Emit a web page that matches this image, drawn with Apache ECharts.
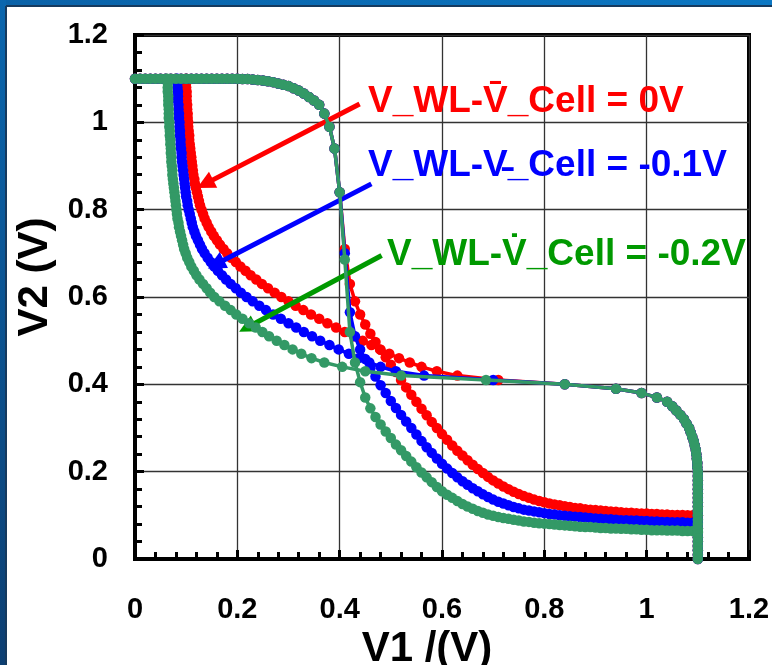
<!DOCTYPE html>
<html>
<head>
<meta charset="utf-8">
<script src="https://cdn.jsdelivr.net/npm/echarts@6/dist/echarts.min.js"></script>
<style>
  html, body { margin: 0; padding: 0; background: #fff; }
  #chart { width: 772px; height: 665px; }
</style>
</head>
<body>
<div id="chart"></div>
<script>
// swept node voltage V1 (step 0.01 V)
const sweep = [
  0.00, 0.01, 0.02, 0.03, 0.04, 0.05, 0.06, 0.07, 0.08, 0.09,
  0.10, 0.11, 0.12, 0.13, 0.14, 0.15, 0.16, 0.17, 0.18, 0.19,
  0.20, 0.21, 0.22, 0.23, 0.24, 0.25, 0.26, 0.27, 0.28, 0.29,
  0.30, 0.31, 0.32, 0.33, 0.34, 0.35, 0.36, 0.37, 0.38, 0.39,
  0.40, 0.41, 0.42, 0.43, 0.44, 0.45, 0.46, 0.47, 0.48, 0.49,
  0.50, 0.51, 0.52, 0.53, 0.54, 0.55, 0.56, 0.57, 0.58, 0.59,
  0.60, 0.61, 0.62, 0.63, 0.64, 0.65, 0.66, 0.67, 0.68, 0.69,
  0.70, 0.71, 0.72, 0.73, 0.74, 0.75, 0.76, 0.77, 0.78, 0.79,
  0.80, 0.81, 0.82, 0.83, 0.84, 0.85, 0.86, 0.87, 0.88, 0.89,
  0.90, 0.91, 0.92, 0.93, 0.94, 0.95, 0.96, 0.97, 0.98, 0.99,
  1.00, 1.01, 1.02, 1.03, 1.04, 1.05, 1.06, 1.07, 1.08, 1.09,
  1.10
];

// V2 read at each sweep point, V_WL - V_Cell = 0V
const v2Red = [
  1.1, 1.1, 1.1, 1.1, 1.1, 1.1, 1.1, 1.1, 1.1, 1.1,
  1.1, 1.1, 1.1, 1.1, 1.1, 1.1, 1.1, 1.1, 1.1, 1.1,
  1.1, 1.099, 1.099, 1.098, 1.097, 1.096, 1.094, 1.092, 1.089, 1.086,
  1.083, 1.078, 1.073, 1.066, 1.058, 1.05, 1.04, 1.02, 0.99, 0.94,
  0.84, 0.71, 0.63, 0.59, 0.56, 0.537, 0.516, 0.497, 0.479, 0.462,
  0.445, 0.428, 0.41, 0.393, 0.376, 0.36, 0.344, 0.329, 0.314, 0.3,
  0.286, 0.273, 0.26, 0.248, 0.237, 0.226, 0.216, 0.206, 0.197, 0.188,
  0.18, 0.173, 0.166, 0.16, 0.154, 0.149, 0.144, 0.14, 0.136, 0.133,
  0.13, 0.127, 0.125, 0.123, 0.121, 0.119, 0.117, 0.116, 0.114, 0.113,
  0.112, 0.111, 0.11, 0.109, 0.108, 0.107, 0.106, 0.106, 0.105, 0.104,
  0.104, 0.103, 0.103, 0.102, 0.102, 0.101, 0.101, 0.101, 0.1, 0.1,
  0.1
];

// V_WL - V_Cell = -0.1V
const v2Blue = [
  1.1, 1.1, 1.1, 1.1, 1.1, 1.1, 1.1, 1.1, 1.1, 1.1,
  1.1, 1.1, 1.1, 1.1, 1.1, 1.1, 1.1, 1.1, 1.1, 1.1,
  1.1, 1.099, 1.099, 1.098, 1.097, 1.096, 1.094, 1.092, 1.089, 1.086,
  1.083, 1.078, 1.073, 1.066, 1.058, 1.05, 1.04, 1.02, 0.99, 0.94,
  0.84, 0.70, 0.565, 0.51, 0.48, 0.458, 0.437, 0.418, 0.398, 0.38,
  0.362, 0.346, 0.33, 0.315, 0.3, 0.285, 0.27, 0.256, 0.243, 0.23,
  0.218, 0.207, 0.197, 0.187, 0.178, 0.17, 0.162, 0.155, 0.148, 0.142,
  0.136, 0.131, 0.127, 0.123, 0.119, 0.116, 0.113, 0.111, 0.109, 0.107,
  0.105, 0.103, 0.102, 0.1, 0.099, 0.098, 0.097, 0.096, 0.095, 0.094,
  0.093, 0.092, 0.091, 0.091, 0.09, 0.089, 0.089, 0.088, 0.088, 0.087,
  0.087, 0.086, 0.086, 0.085, 0.085, 0.084, 0.084, 0.084, 0.083, 0.083,
  0.083
];

// V_WL - V_Cell = -0.2V
const v2Teal = [
  1.1, 1.1, 1.1, 1.1, 1.1, 1.1, 1.1, 1.1, 1.1, 1.1,
  1.1, 1.1, 1.1, 1.1, 1.1, 1.1, 1.1, 1.1, 1.1, 1.1,
  1.1, 1.099, 1.099, 1.098, 1.097, 1.096, 1.094, 1.092, 1.089, 1.086,
  1.083, 1.078, 1.073, 1.066, 1.058, 1.05, 1.04, 1.02, 0.99, 0.94,
  0.84, 0.686, 0.52, 0.45, 0.405, 0.37, 0.345, 0.325, 0.308, 0.292,
  0.277, 0.262, 0.249, 0.236, 0.223, 0.21, 0.198, 0.187, 0.176, 0.165,
  0.155, 0.147, 0.14, 0.133, 0.126, 0.12, 0.115, 0.11, 0.106, 0.102,
  0.099, 0.096, 0.094, 0.092, 0.09, 0.088, 0.086, 0.085, 0.083, 0.082,
  0.081, 0.08, 0.079, 0.078, 0.077, 0.076, 0.075, 0.074, 0.073, 0.073,
  0.072, 0.071, 0.071, 0.07, 0.07, 0.069, 0.069, 0.068, 0.068, 0.067,
  0.067, 0.066, 0.066, 0.066, 0.065, 0.065, 0.065, 0.064, 0.064, 0.064,
  0.063
];

const tickLabels = ['0', '0.2', '0.4', '0.6', '0.8', '1', '1.2'];

const labelRed = 'V_WL-V\u0304_Cell = 0V';
const labelBlue = 'V_WL-V\u0335_Cell = -0.1V';
const labelGreen = 'V_WL-V\u0307_Cell = -0.2V';

// arrows: [from V1, from V2, to V1, to V2]
const arrowRed = [0.439, 1.042, 0.137, 0.859];
const arrowBlue = [0.462, 0.859, 0.158, 0.675];
const arrowGreen = [0.482, 0.695, 0.219, 0.53];

const FONT = '"Liberation Sans", Arial, sans-serif';

// butterfly: transfer curve and its mirror (inputs/outputs swapped)
function curve(ys) { return sweep.map((x, i) => [x, ys[i]]); }
function mirror(ys) { return sweep.map((x, i) => [ys[i], x]); }

function lineSeries(name, data, color, z) {
  return {
    name: name,
    type: 'line',
    data: data,
    z: z,
    symbol: 'circle',
    symbolSize: 10.5,
    showSymbol: true,
    itemStyle: { color: color },
    lineStyle: { color: color, width: 3.5 },
    emphasis: { disabled: true }
  };
}

function arrow(a, color) {
  return [{ coord: [a[0], a[1]], lineStyle: { color: color } }, { coord: [a[2], a[3]] }];
}

var myChart = echarts.init(document.getElementById('chart'), null, { renderer: 'canvas' });

let tealB = lineSeries('tealB', mirror(v2Teal), '#339966', 7);
tealB.markLine = {
  silent: true,
  symbol: ['none', 'triangle'],
  symbolSize: [18, 18],
  label: { show: false },
  lineStyle: { width: 5, type: 'solid' },
  data: [arrow(arrowRed, '#ff0000'), arrow(arrowBlue, '#0000ff'), arrow(arrowGreen, '#009900')]
};

let option = {
  animation: false,
  backgroundColor: '#ffffff',
  grid: {
    left: 135, right: 23, top: 35, bottom: 106,
    outerBoundsMode: 'none', containLabel: false,
    show: true, borderColor: '#000', borderWidth: 4
  },
  xAxis: {
    type: 'value', min: 0, max: 1.2, interval: 0.2,
    axisLine: { show: true, onZero: false, lineStyle: { color: '#000', width: 4 } },
    axisTick: { show: true, inside: true, length: 9, lineStyle: { color: '#000', width: 3 } },
    minorTick: { show: true, splitNumber: 5, length: 7, lineStyle: { color: '#000', width: 3 } },
    splitLine: { show: true, lineStyle: { color: '#333', width: 1.3 } },
    axisLabel: {
      fontSize: 29, fontWeight: 'bold', color: '#000', fontFamily: FONT, margin: 36,
      formatter: v => tickLabels[Math.round(v / 0.2)]
    },
    name: 'V1 /(V)', nameLocation: 'middle', nameGap: 50,
    nameTextStyle: { fontSize: 42, fontWeight: 'bold', color: '#000', fontFamily: FONT, padding: [0, 30, 0, 0] }
  },
  yAxis: {
    type: 'value', min: 0, max: 1.2, interval: 0.2,
    axisLine: { show: true, onZero: false, lineStyle: { color: '#000', width: 4 } },
    axisTick: { show: true, inside: true, length: 9, lineStyle: { color: '#000', width: 3 } },
    minorTick: { show: true, splitNumber: 5, length: 7, lineStyle: { color: '#000', width: 3 } },
    splitLine: { show: true, lineStyle: { color: '#333', width: 1.3 } },
    axisLabel: {
      fontSize: 29, fontWeight: 'bold', color: '#000', fontFamily: FONT, margin: 27,
      formatter: v => tickLabels[Math.round(v / 0.2)]
    },
    name: 'V2 (V)', nameLocation: 'middle', nameGap: 64,
    nameTextStyle: { fontSize: 42, fontWeight: 'bold', color: '#000', fontFamily: FONT, padding: [0, 0, 0, 40] }
  },
  series: [
    lineSeries('redA', curve(v2Red), '#ff0000', 2),
    lineSeries('redB', mirror(v2Red), '#ff0000', 2),
    lineSeries('blueA', curve(v2Blue), '#0000ff', 4),
    lineSeries('blueB', mirror(v2Blue), '#0000ff', 4),
    lineSeries('tealA', curve(v2Teal), '#339966', 6),
    tealB
  ],
  graphic: [
    {
      type: 'rect', z: 100, shape: { x: 0, y: 0, width: 772, height: 6 },
      style: { fill: new echarts.graphic.LinearGradient(0, 0, 1, 0, [
        { offset: 0, color: '#0a62a8' }, { offset: 1, color: '#0b78c4' }]) }
    },
    {
      type: 'rect', z: 100, shape: { x: 0, y: 0, width: 6, height: 665 },
      style: { fill: new echarts.graphic.LinearGradient(0, 0, 0, 1, [
        { offset: 0, color: '#0a66ae' }, { offset: 1, color: '#0d3f72' }]) }
    },
    { type: 'rect', z: 100, shape: { x: 6, y: 5, width: 766, height: 2 }, style: { fill: '#163a5e' } },
    { type: 'rect', z: 100, shape: { x: 5, y: 6, width: 2, height: 659 }, style: { fill: '#163a5e' } },
    {
      type: 'text', z: 100, x: 368, y: 102,
      style: { text: labelRed, fill: '#ff0000', font: 'bold 37px ' + FONT, verticalAlign: 'middle' }
    },
    {
      type: 'text', z: 100, x: 368, y: 166,
      style: { text: labelBlue, fill: '#0000ff', font: 'bold 37px ' + FONT, verticalAlign: 'middle' }
    },
    {
      type: 'text', z: 100, x: 387, y: 255,
      style: { text: labelGreen, fill: '#009900', font: 'bold 37px ' + FONT, verticalAlign: 'middle' }
    }
  ]
};

myChart.setOption(option);
</script>
</body>
</html>
